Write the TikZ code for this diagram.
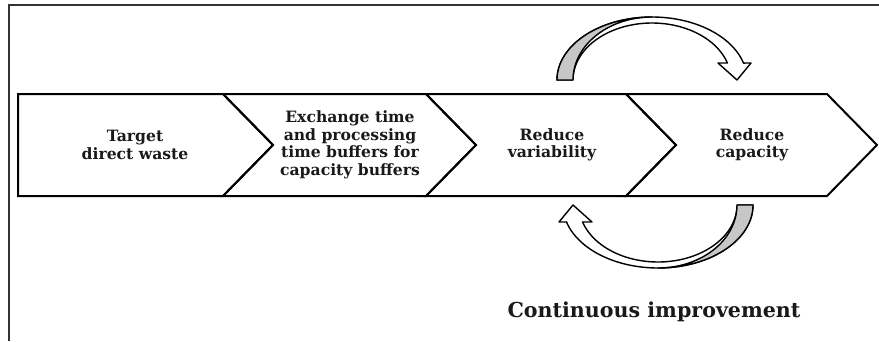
\documentclass[tikz,border=0pt]{standalone}
\usepackage{fontspec}
\setmainfont{DejaVu Serif}
\begin{document}
\begin{tikzpicture}[x=1pt,y=-1pt,
  frameline/.style={line width=1.5pt,draw=black!80},
  chev/.style={line width=2pt,draw=black,line join=miter},
  lbl/.style={font=\bfseries\fontsize{15.6}{17.6}\selectfont,align=center,text=black!90},
  ribbon/.style={line width=1.4pt,draw=black,fill=white,line join=round},
  backband/.style={line width=1.4pt,draw=black,fill=black!22,line join=round}]
\useasboundingbox (0,0) rectangle (879,341);
% frame (top and left only)
\draw[frameline] (879,5) -- (9,5) -- (9,341);
% chevrons
\draw[chev] (18,94) -- (223,94) -- (273,145) -- (223,196) -- (18,196) -- cycle;
\draw[chev] (223,94) -- (426,94) -- (476,145) -- (426,196) -- (223,196) -- (273,145) -- cycle;
\draw[chev] (426,94) -- (626,94) -- (676,145) -- (626,196) -- (426,196) -- (476,145) -- cycle;
\draw[chev] (626,94) -- (827,94) -- (877,145) -- (827,196) -- (626,196) -- (676,145) -- cycle;
% labels
\node[lbl] (s1) at (135,145) {Target\\direct waste};
\node[lbl] (s2) at (350,145) {Exchange time\\and processing\\time buffers for\\capacity buffers};
\node[lbl] (s3) at (552,145) {Reduce\\variability};
\node[lbl] (s4) at (752,145) {Reduce\\capacity};
% top curved arrow
\path[ribbon] plot[domain=180:15.6,samples=60] ({652+95*cos(\x)},{80-63*sin(\x)})
  -- (751,63) -- (737,80) -- (718,63)
  -- plot[domain=17.35:180,samples=60] ({652+79*cos(\x)},{80-57*sin(\x)}) -- cycle;
\path[backband] plot[domain=180:90,samples=40] ({652+95*cos(\x)},{80-63*sin(\x)})
  -- plot[domain=90:180,samples=40] ({652+79*cos(\x)},{80-63*sin(\x)}) -- cycle;
% bottom curved arrow (same shape turned round)
\begin{scope}[rotate around={180:(655,142.5)}]
\path[ribbon] plot[domain=180:15.6,samples=60] ({652+95*cos(\x)},{80-63*sin(\x)})
  -- (751,63) -- (737,80) -- (718,63)
  -- plot[domain=17.35:180,samples=60] ({652+79*cos(\x)},{80-57*sin(\x)}) -- cycle;
\path[backband] plot[domain=180:90,samples=40] ({652+95*cos(\x)},{80-63*sin(\x)})
  -- plot[domain=90:180,samples=40] ({652+79*cos(\x)},{80-63*sin(\x)}) -- cycle;
\end{scope}
% title
\node[font=\bfseries\fontsize{20.6}{24}\selectfont,anchor=base,text=black!90] (ci) at (654,317) {Continuous improvement};
\end{tikzpicture}
\end{document}
